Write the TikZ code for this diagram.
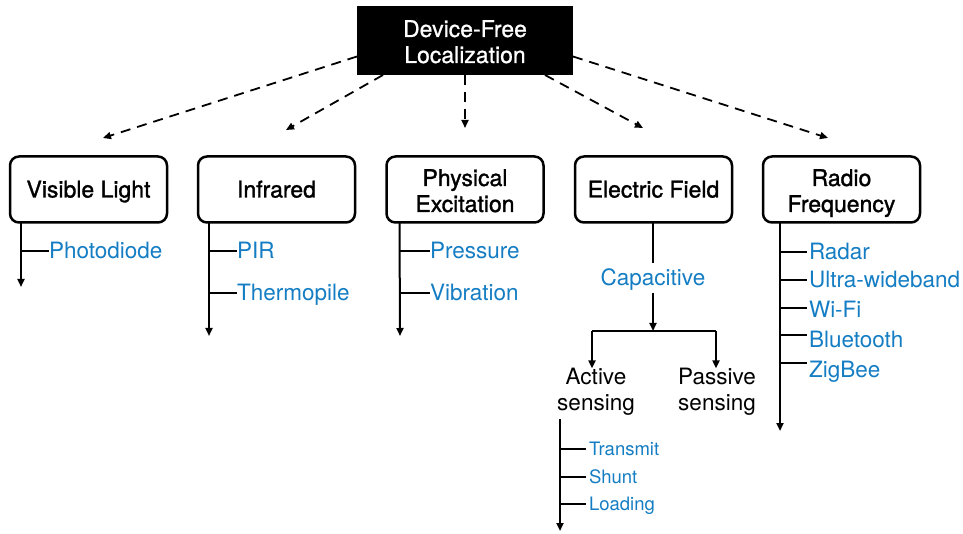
\documentclass[tikz,border=0pt]{standalone}
\usepackage{fontspec}
\setmainfont{TeX Gyre Heros}
\usetikzlibrary{arrows.meta}
\definecolor{techblue}{RGB}{20,125,195}
\begin{document}
\begin{tikzpicture}[x=1pt,y=-1pt,
  every node/.style={font=\fontsize{22.5}{26}\selectfont, inner sep=0pt, outer sep=0pt},
  root/.style={fill=black, text=white, minimum width=216pt, minimum height=69pt, align=center,
    text height=45pt, text depth=0pt,
    font=\fontsize{23}{26}\selectfont\addfontfeature{FakeBold=0.8}},
  catbox/.style={draw, line width=2.5pt, rounded corners=9pt, minimum width=157pt,
    minimum height=66pt, align=center,
    font=\fontsize{23}{26}\selectfont\addfontfeature{FakeBold=1.3}},
  oneline/.style={catbox, text height=16pt, text depth=0pt},
  twoline/.style={catbox, text height=45pt, text depth=0pt},
  tip/.style={-{Triangle[length=8pt,width=7pt]}},
  dasharrow/.style={tip, dash pattern=on 10pt off 7pt, line width=1.8pt},
  stem/.style={line width=2pt},
  item/.style={text=techblue, anchor=west, text height=16pt, text depth=0pt},
  subitem/.style={text=techblue, anchor=west, text height=13pt, text depth=0pt,
    font=\fontsize{18.5}{22}\selectfont},
  mode/.style={align=center}
]
\useasboundingbox (0,0) rectangle (963,534);

% root and categories
\node[root] (dfl) at (465,40.5) {Device-Free\\Localization};
\node[oneline] (vl) at (88.5,189.5) {Visible Light};
\node[oneline] (ir) at (276.5,189.5) {Infrared};
\node[twoline] (pe) at (465,189.5) {Physical\\Excitation};
\node[oneline] (ef) at (653.5,189.5) {Electric Field};
\node[twoline] (rf) at (841.5,189.5) {Radio\\Frequency};

% dashed links from the root
\coordinate (tvl) at (103,138);
\coordinate (tir) at (286,130);
\coordinate (tpe) at (465,128);
\coordinate (tef) at (643,128);
\coordinate (trf) at (828,138);
\draw[dasharrow] ([yshift=-16pt]dfl.west) -- (tvl);
\draw[dasharrow] ([xshift=26pt]dfl.south west) -- (tir);
\draw[dasharrow] (dfl.south) -- (tpe);
\draw[dasharrow] ([xshift=-28pt]dfl.south east) -- (tef);
\draw[dasharrow] ([yshift=-16pt]dfl.east) -- (trf);

% Visible Light
\coordinate (vltop) at ([xshift=11pt]vl.south west);
\coordinate (vlend) at (21,287);
\draw[stem,tip] (vltop) -- (vlend);
\node[item] (photo) at (49,251) {Photodiode};
\draw[stem] (photo.west -| vltop) -- (photo.west);

% Infrared
\coordinate (irtop) at ([xshift=11pt]ir.south west);
\coordinate (irend) at (209,336);
\draw[stem,tip] (irtop) -- (irend);
\node[item] (pir) at (237,251) {PIR};
\node[item] (thermo) at (237,293) {Thermopile};
\draw[stem] (pir.west -| irtop) -- (pir.west);
\draw[stem] (thermo.west -| irtop) -- (thermo.west);

% Physical Excitation
\coordinate (petop) at ([xshift=13pt]pe.south west);
\coordinate (peend) at (400,336);
\draw[stem,tip] (petop) -- (peend);
\node[item] (press) at (430,251) {Pressure};
\node[item] (vib) at (430,293) {Vibration};
\draw[stem] (press.west -| petop) -- (press.west);
\draw[stem] (vib.west -| petop) -- (vib.west);

% Electric Field
\coordinate (efbot) at (653,223);
\node[item, anchor=center, inner ysep=7pt] (cap) at (653,278) {Capacitive};
\draw[stem] (efbot) -- (cap.north);
\coordinate (split) at (653,331);
\draw[stem,tip] (cap.south) -- (split);
\coordinate (lsplit) at (592,331);
\coordinate (rsplit) at (716,331);
\draw[stem] (lsplit) -- (rsplit);
\node[mode] (active) at (596,392) {Active\\sensing};
\node[mode] (passive) at (717,392) {Passive\\sensing};
\draw[stem,tip] (lsplit) -- (lsplit |- active.north);
\draw[stem,tip] (rsplit) -- (rsplit |- passive.north);

% active sensing modes
\coordinate (actop) at (560,419);
\coordinate (acend) at (560,531);
\draw[stem,tip] (actop) -- (acend);
\node[subitem] (trans) at (589,449) {Transmit};
\node[subitem] (shunt) at (589,477) {Shunt};
\node[subitem] (load) at (589,504) {Loading};
\draw[stem] (trans.west -| actop) -- ([xshift=-3pt]trans.west);
\draw[stem] (shunt.west -| actop) -- ([xshift=-3pt]shunt.west);
\draw[stem] (load.west -| actop) -- ([xshift=-3pt]load.west);

% Radio Frequency
\coordinate (rftop) at ([xshift=17pt]rf.south west);
\coordinate (rfend) at (780,431);
\draw[stem,tip] (rftop) -- (rfend);
\node[item] (radar) at (809,252) {Radar};
\node[item] (uwb) at (809,280) {Ultra-wideband};
\node[item] (wifi) at (809,309) {Wi-Fi};
\node[item] (bt) at (809,339) {Bluetooth};
\node[item] (zig) at (809,369) {ZigBee};
\draw[stem] (radar.west -| rftop) -- ([xshift=-2pt]radar.west);
\draw[stem] (uwb.west -| rftop) -- ([xshift=-2pt]uwb.west);
\draw[stem] ([yshift=1pt]wifi.west -| rftop) -- ([yshift=1pt,xshift=-2pt]wifi.west);
\draw[stem] ([yshift=4pt]bt.west -| rftop) -- ([yshift=4pt,xshift=-2pt]bt.west);
\draw[stem] ([yshift=6pt]zig.west -| rftop) -- ([yshift=6pt,xshift=-2pt]zig.west);
\end{tikzpicture}
\end{document}
